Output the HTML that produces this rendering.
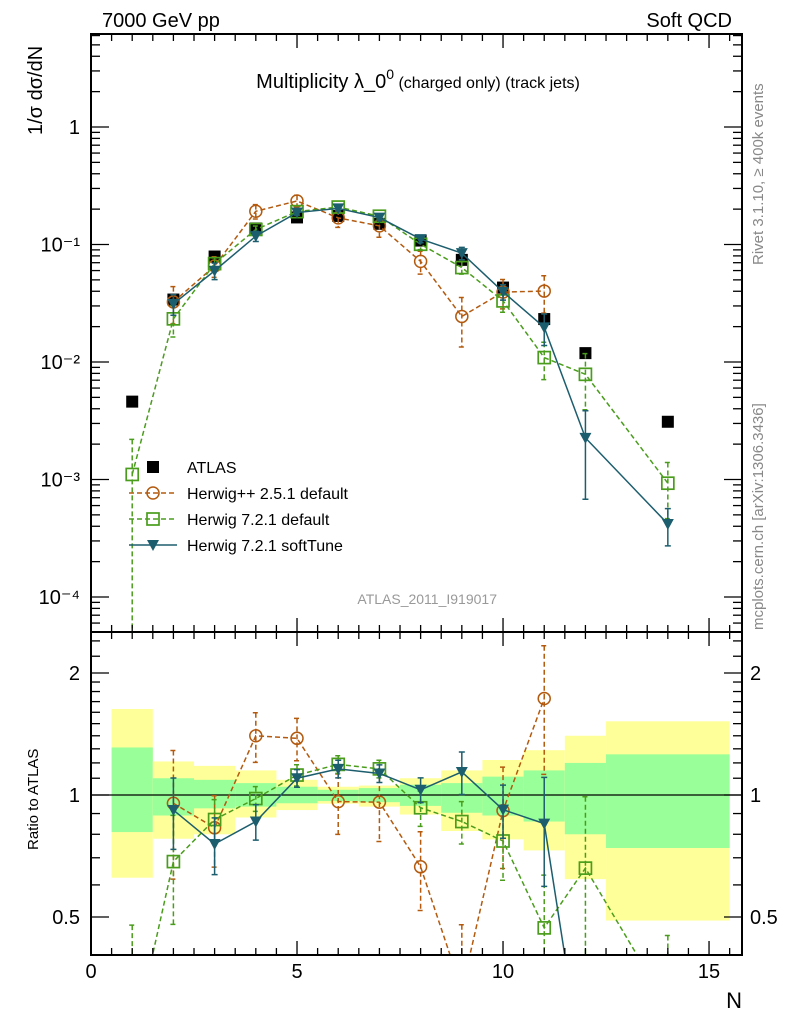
<!DOCTYPE html>
<html><head><meta charset="utf-8"><style>
html,body{margin:0;padding:0;background:#fff;width:786px;height:1024px;overflow:hidden;}
svg{display:block;font-family:"Liberation Sans",sans-serif;}
</style></head><body>
<svg id="chart" width="786" height="1024" viewBox="0 0 786 1024" xmlns="http://www.w3.org/2000/svg">
<defs>
<clipPath id="cm"><rect x="91" y="34" width="651" height="598"/></clipPath>
<clipPath id="cr"><rect x="91" y="632" width="651" height="323"/></clipPath>
</defs>
<text x="102" y="27" font-size="20">7000 GeV pp</text>
<text x="732" y="27" font-size="20" text-anchor="end">Soft QCD</text>
<text x="418" y="88" font-size="20" text-anchor="middle">Multiplicity λ_0<tspan dy="-9" font-size="14">0</tspan><tspan dy="9" font-size="16"> (charged only) (track jets)</tspan></text>
<text transform="translate(42,135) rotate(-90)" font-size="20">1/σ dσ/dN</text>
<text transform="translate(38,850) rotate(-90)" font-size="15">Ratio to ATLAS</text>
<text x="742" y="1008" font-size="22" text-anchor="end">N</text>
<text transform="translate(763,265) rotate(-90)" font-size="15" fill="#888">Rivet 3.1.10, ≥ 400k events</text>
<text transform="translate(763,630) rotate(-90)" font-size="15" fill="#888">mcplots.cern.ch [arXiv:1306.3436]</text>
<text x="497" y="604" font-size="14" fill="#999" text-anchor="end">ATLAS_2011_I919017</text>
<g id="bands" clip-path="url(#cr)"></g>
<g id="marks"></g>
<g id="axes"></g>
<g id="legend"></g>
</svg>
<script>
// ---- data ----
const nVals = [1,2,3,4,5,6,7,8,9,10,11,12,14];
const atlasVals = [0.0046,0.034,0.079,0.137,0.170,0.175,0.150,0.108,0.074,0.043,0.0232,0.0119,0.0031];
const binLo = [0.5,1.5,2.5,3.5,4.5,5.5,6.5,7.5,8.5,9.5,10.5,11.5,12.5];
const binHi = [1.5,2.5,3.5,4.5,5.5,6.5,7.5,8.5,9.5,10.5,11.5,12.5,15.5];
const bandYelUp = [1.63,1.21,1.18,1.15,1.09,1.048,1.055,1.10,1.15,1.22,1.29,1.40,1.52];
const bandYelDn = [0.625,0.78,0.80,0.88,0.918,0.952,0.936,0.895,0.815,0.777,0.73,0.62,0.49];
const bandGrnUp = [1.31,1.10,1.09,1.07,1.048,1.03,1.04,1.06,1.07,1.11,1.15,1.20,1.26];
const bandGrnDn = [0.81,0.89,0.927,0.936,0.954,0.966,0.96,0.94,0.904,0.89,0.86,0.80,0.74];
const hppN = [2,3,4,5,6,7,8,9,10,11];
const hppRatio = [0.954,0.83,1.40,1.38,0.963,0.96,0.665,0.33,0.915,1.73];
const hppErr = [0.35,0.2,0.14,0.12,0.17,0.2,0.22,0.45,0.28,0.35];
const h7N = [1,2,3,4,5,6,7,8,9,10,11,12,14];
const h7Ratio = [0.24,0.685,0.87,0.98,1.12,1.19,1.16,0.93,0.86,0.77,0.47,0.66,0.30];
const h7Err = [0.99,0.3,0.12,0.07,0.06,0.05,0.05,0.1,0.12,0.2,0.35,0.5,0.5];
const stN = [2,3,4,5,6,7,8,9,10,11,12,14];
const stRatio = [0.918,0.757,0.86,1.10,1.16,1.13,1.03,1.14,0.92,0.85,0.19,0.135];
const stErr = [0.2,0.16,0.1,0.05,0.05,0.05,0.07,0.12,0.15,0.3,0.7,0.35];
const xTicks = [0,5,10,15];
const yTicks = [1,0.1,0.01,0.001,0.0001];
const yTickLabels = ["1","10\u207B\u00B9","10\u207B\u00B2","10\u207B\u00B3","10\u207B\u2074"];
const rTicks = [0.5,1,2];
const rTickLabels = ["0.5","1","2"];

// ---- axes functions ----
const X0=91, X1=742, XMAX=15.8;
const RB=955;
const sx = v => X0 + (X1-X0)*v/XMAX;
const sy = v => 127 - 117.5*Math.log10(v);
const sr = v => 795 - 122*Math.log2(v);
const NS="http://www.w3.org/2000/svg";
function mk(tag, attrs, parent){const e=document.createElementNS(NS,tag);for(const k in attrs)e.setAttribute(k,attrs[k]);parent.appendChild(e);return e;}
const bands=document.getElementById('bands'), marks=document.getElementById('marks'), axes=document.getElementById('axes'), legend=document.getElementById('legend');

for(let i=0;i<binLo.length;i++){
  const y=mk('rect',{x:sx(binLo[i]),y:sr(bandYelUp[i]),width:sx(binHi[i])-sx(binLo[i]),height:sr(bandYelDn[i])-sr(bandYelUp[i]),fill:'#ffff99'},bands);
  
  
  const g=mk('rect',{x:sx(binLo[i]),y:sr(bandGrnUp[i]),width:sx(binHi[i])-sx(binLo[i]),height:sr(bandGrnDn[i])-sr(bandGrnUp[i]),fill:'#99ff99'},bands);
  
  
}
const one=mk('line',{x1:X0,x2:X1,y1:sr(1),y2:sr(1),stroke:'#000','stroke-width':1.3},bands);



const atlasAt = n => atlasVals[nVals.indexOf(n)];

function marker(kind,x,y,col,g){
  if(kind==='circle') return mk('circle',{cx:x,cy:y,r:6,fill:'none',stroke:col,'stroke-width':1.5},g);
  if(kind==='square') return mk('rect',{x:x-6,y:y-6,width:12,height:12,fill:'none',stroke:col,'stroke-width':1.7},g);
  if(kind==='tri') return mk('path',{d:`M${x-6},${y-5}L${x+6},${y-5}L${x},${y+6}Z`,fill:col},g);
}
function series(name,ns,ratios,errs,col,dash,kind){
  [['main','cm',1],['ratio','cr',0]].forEach(([panel,clip,isMain])=>{
    const g=mk('g',{'clip-path':`url(#${clip})`},marks);
    
    
    const pt=(i)=>{const n=ns[i];const r=ratios[i];return isMain?atlasAt(n)*r:r;};
    const yf=isMain?sy:sr;
    let d='';
    ns.forEach((n,i)=>{d+=(i?'L':'M')+sx(n)+','+yf(pt(i));});
    const l=mk('path',{d:d,fill:'none',stroke:col,'stroke-width':1.5,'stroke-dasharray':dash},g);
    
    
    ns.forEach((n,i)=>{
      const v=pt(i), e=errs[i];
      const hi=v*(1+e), lo=Math.max(v*(1-e),1e-9);
      const x=sx(n);
      const eb=mk('path',{d:`M${x},${yf(hi)}L${x},${yf(lo)}M${x-3},${yf(hi)}L${x+3},${yf(hi)}M${x-3},${yf(lo)}L${x+3},${yf(lo)}`,stroke:col,'stroke-width':1.5,'stroke-dasharray':dash,fill:'none'},g);
      
      
      const m=marker(kind,x,yf(v),col,g);
      
      
    });
  });
}
const ag=mk('g',{'clip-path':'url(#cm)'},marks);


nVals.forEach((n,i)=>{
  const r=mk('rect',{x:sx(n)-6,y:sy(atlasVals[i])-6,width:12,height:12,fill:'#000'},ag);
  
  
});
series('herwigpp-251',hppN,hppRatio,hppErr,'#b35a0f','5,3','circle');
series('herwig721-default',h7N,h7Ratio,h7Err,'#4a9d1c','5,3','square');
series('herwig721-softtune',stN,stRatio,stErr,'#1d5e6e','none','tri');

[[34,632],[632,RB]].forEach(([t,b],k)=>{
  const f=mk('rect',{x:X0,y:t,width:X1-X0,height:b-t,fill:'none',stroke:'#000','stroke-width':2},axes);
  
  
  for(let v=0;v<=XMAX;v+=0.5){
    const major=Math.abs(v-Math.round(v/5)*5)<1e-6;
    const len=major?14:7;
    mk('line',{x1:sx(v),x2:sx(v),y1:b,y2:b-len,stroke:'#000','stroke-width':1.3},axes);
    mk('line',{x1:sx(v),x2:sx(v),y1:t,y2:t+len,stroke:'#000','stroke-width':1.3},axes);
  }
});
xTicks.forEach(v=>{
  const t=mk('text',{x:sx(v),y:978,'font-size':20,'text-anchor':'middle'},axes);t.textContent=v;
  
  
});
for(let e=-5;e<=0;e++){
  for(let m=1;m<10;m++){
    const v=m*Math.pow(10,e);const y=sy(v);
    if(y<34||y>632)continue;
    const len=m===1?18:9;
    mk('line',{x1:X0,x2:X0+len,y1:y,y2:y,stroke:'#000','stroke-width':1.3},axes);
    mk('line',{x1:X1,x2:X1-len,y1:y,y2:y,stroke:'#000','stroke-width':1.3},axes);
  }
}
yTicks.forEach((v,i)=>{
  const t=mk('text',{x:80,y:sy(v)+7,'font-size':20,'text-anchor':'end'},axes);t.textContent=yTickLabels[i];
  
  
});
[0.4,0.5,0.6,0.7,0.8,0.9,1,1.1,1.2,1.3,1.4,1.5,1.6,1.7,1.8,1.9,2,2.2,2.4].forEach(v=>{
  const y=sr(v);if(y<632||y>RB)return;
  const major=rTicks.includes(v);const len=major?18:9;
  mk('line',{x1:X0,x2:X0+len,y1:y,y2:y,stroke:'#000','stroke-width':1.3},axes);
  mk('line',{x1:X1,x2:X1-len,y1:y,y2:y,stroke:'#000','stroke-width':1.3},axes);
});
rTicks.forEach((v,i)=>{
  const t=mk('text',{x:80,y:sr(v)+7,'font-size':20,'text-anchor':'end'},axes);t.textContent=rTickLabels[i];
  
  
  const t2=mk('text',{x:750,y:sr(v)+7,'font-size':20},axes);t2.textContent=rTickLabels[i];
  
  
});
const legItems=[['ATLAS','#000','none','atlas'],['Herwig++ 2.5.1 default','#b35a0f','5,3','circle'],['Herwig 7.2.1 default','#4a9d1c','5,3','square'],['Herwig 7.2.1 softTune','#1d5e6e','none','tri']];
legItems.forEach(([lab,col,dash,kind],i)=>{
  const y=467+26*i;
  const g=mk('g',{},legend);
  
  
  if(kind==='atlas'){mk('rect',{x:147,y:y-6,width:12,height:12,fill:'#000'},g);}
  else{mk('line',{x1:129,x2:177,y1:y,y2:y,stroke:col,'stroke-width':1.5,'stroke-dasharray':dash},g);marker(kind,153,y,col,g);}
  const t=mk('text',{x:187,y:y+6,'font-size':16},g);t.textContent=lab;
});
</script>
</body></html>
